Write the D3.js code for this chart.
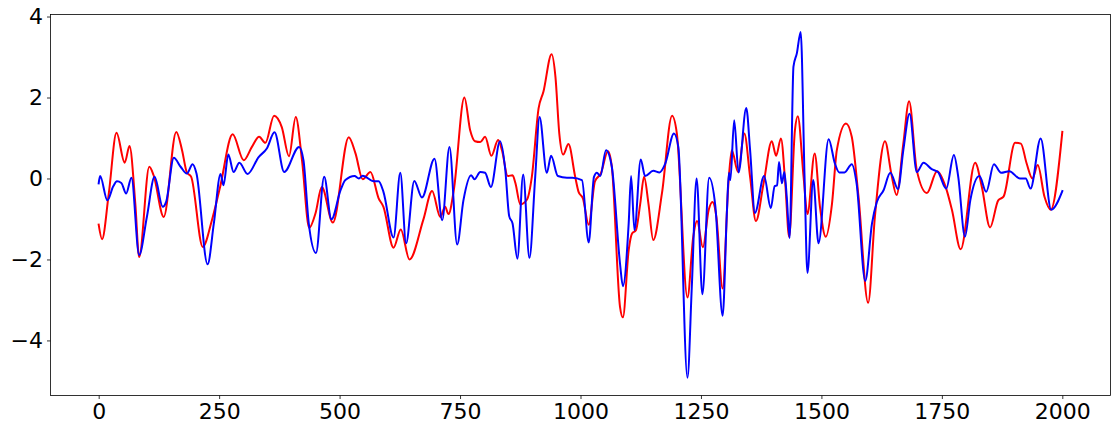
<!DOCTYPE html>
<html>
<head>
<meta charset="utf-8">
<script src="https://cdn.jsdelivr.net/npm/d3@7"></script>
<style>
  html, body { margin: 0; padding: 0; background: #fff; }
  svg { display: block; }
</style>
</head>
<body>
<script>
// ---- data ----
const xTicks = [0, 250, 500, 750, 1000, 1250, 1500, 1750, 2000];
const yTicks = [-4, -2, 0, 2, 4];

const redX = [0,7,21,37,54,64,76,84,105,114,135,161,173,183,192,216,235,252,278,301,318,333,346,364,380,395,409,422,437,450,463,486,519,533,548,564,581,591,612,627,645,674,692,709,719,726,737,759,771,781,792,802,815,829,837,849,859,865,875,889,899,913,923,940,948,956,964,975,989,996,1005,1017,1030,1042,1057,1065,1082,1088,1100,1107,1115,1124,1132,1141,1151,1169,1190,1200,1222,1234,1242,1254,1266,1274,1282,1295,1307,1314,1327,1340,1352,1364,1380,1397,1406,1416,1425,1433,1445,1451,1463,1471,1486,1497,1509,1522,1532,1551,1563,1577,1597,1611,1632,1645,1656,1670,1682,1698,1719,1740,1759,1771,1789,1819,1833,1850,1867,1878,1902,1914,1926,1938,1949,1963,1976,2000];
const redY = [-1.14,-1.50,-0.37,1.13,0.39,0.80,-0.62,-1.94,0.29,0.08,-0.95,1.15,0.70,0.15,0.04,-1.69,-1.03,-0.21,1.09,0.45,0.78,1.03,0.88,1.55,1.27,0.55,1.52,0.45,-1.22,-0.86,-0.21,-1.09,1.02,0.62,-0.02,0.16,-0.49,-0.70,-1.71,-1.26,-2.00,-1.01,-0.31,-0.95,-0.70,-0.88,-0.29,2.00,1.19,0.92,0.90,1.03,0.56,0.95,0.70,0.06,0.08,-0.12,-0.64,-0.52,0.04,1.73,2.14,3.07,2.51,1.11,0.59,0.85,0.04,-0.33,-0.49,-1.14,-0.07,0.12,0.67,0.29,-3.17,-3.43,-1.77,-1.36,-1.28,-0.62,0.04,-0.62,-1.52,-0.37,1.55,1.11,-2.94,-1.44,-1.05,-1.70,-0.78,-0.58,-0.95,-2.72,-0.12,0.70,0.16,1.11,0.04,-1.05,-0.12,0.92,0.56,0.99,-0.12,-1.44,1.19,1.54,0.04,-0.88,0.62,-0.70,-1.44,-0.62,0.70,1.36,1.03,-0.45,-3.07,-0.95,0.92,0.12,-0.41,0.86,1.91,0.20,-0.36,0.18,-0.25,-0.78,-1.75,0.39,-0.21,-1.21,-0.54,-0.45,0.88,0.86,0.37,0.00,0.33,-0.45,-0.77,1.15];

const blueX = [0,3,18,30,38,47,57,68,84,100,116,133,140,156,170,183,195,203,226,239,253,259,269,280,292,309,332,349,365,385,416,425,436,451,468,483,502,512,531,540,548,571,581,591,612,626,638,655,671,697,713,728,744,757,773,780,792,802,814,833,844,852,859,869,881,894,906,915,930,939,953,972,983,1003,1017,1028,1034,1041,1053,1065,1082,1088,1100,1105,1112,1125,1134,1151,1164,1176,1194,1203,1222,1231,1241,1253,1267,1280,1295,1304,1308,1311,1319,1328,1344,1352,1362,1381,1395,1403,1408,1412,1418,1423,1428,1434,1442,1449,1457,1465,1471,1483,1494,1515,1528,1537,1548,1563,1573,1591,1605,1615,1629,1643,1659,1670,1683,1698,1712,1729,1742,1759,1775,1784,1798,1809,1828,1842,1858,1873,1890,1912,1924,1934,1955,1977,2000];
const blueY = [-0.12,0.06,-0.54,-0.20,-0.07,-0.11,-0.37,0.02,-1.89,-0.95,0.04,-0.70,-0.58,0.51,0.29,0.12,0.35,0.12,-2.12,-1.11,0.11,-0.17,0.59,0.16,0.39,0.11,0.53,0.74,1.14,0.16,0.78,0.45,-1.11,-1.84,0.04,-1.01,-0.29,-0.04,0.06,0.00,0.07,-0.07,-0.07,-0.33,-1.46,0.14,-1.60,-0.06,-0.47,0.49,-1.03,0.78,-1.63,-0.54,0.08,-0.02,0.16,0.14,-0.21,0.92,0.20,-0.93,-1.11,-1.98,0.10,-1.96,0.04,1.52,0.14,0.56,0.06,0.02,0.02,-0.04,-1.58,0.04,0.14,0.06,0.70,0.29,-2.10,-2.66,-1.11,0.06,-1.28,0.47,0.06,0.19,0.15,0.37,1.11,0.78,-4.92,-2.68,0.00,-2.86,0.02,-0.70,-3.39,-0.78,0.14,-0.04,1.44,0.15,1.74,0.70,-0.85,0.06,-0.73,-0.19,-0.17,0.41,-0.12,0.16,-0.45,-1.47,2.76,3.09,3.62,0.04,-2.33,-0.04,-1.60,0.97,0.37,0.15,0.15,0.35,-0.12,-2.53,-1.11,-0.58,-0.29,0.14,-0.26,0.70,1.60,0.16,0.39,0.23,0.16,-0.25,0.58,0.04,-1.44,-0.54,0.06,-0.33,0.35,0.14,0.18,0.00,0.00,-0.25,0.99,-0.77,-0.31];

// ---- layout ----
const W = 1116, H = 433;
const margin = {left: 50.5, top: 14.5, right: 5.5, bottom: 37.5};
const iw = W - margin.left - margin.right;
const ih = H - margin.top - margin.bottom;

const svg = d3.select("body").append("svg").attr("width", W).attr("height", H);
const g = svg.append("g").attr("transform", `translate(${margin.left},${margin.top})`);

const x = d3.scaleLinear().domain([-100, 2100]).range([0, iw]);
const y = d3.scaleLinear().domain([-5.36, 4.05]).range([ih, 0]);

const fontFamily = "'DejaVu Sans', sans-serif";
const fontSize = "22px";

const clip = svg.append("defs").append("clipPath").attr("id", "clip")
  .append("rect").attr("width", iw).attr("height", ih);

const line = d3.line().x(d => x(d[0])).y(d => y(d[1])).curve(d3.curveMonotoneX);

const lines = g.append("g").attr("clip-path", "url(#clip)");
lines.append("path").datum(redX.map((v, i) => [v, redY[i]]))
  .attr("d", line).attr("fill", "none").attr("stroke", "#ff0000")
  .attr("stroke-width", 2).attr("stroke-linejoin", "round").attr("stroke-linecap", "square");
lines.append("path").datum(blueX.map((v, i) => [v, blueY[i]]))
  .attr("d", line).attr("fill", "none").attr("stroke", "#0000ff")
  .attr("stroke-width", 2).attr("stroke-linejoin", "round").attr("stroke-linecap", "square");

// axes
const xAxis = d3.axisBottom(x).tickValues(xTicks).tickSize(3.5).tickPadding(4).tickFormat(d3.format("d"));
const yAxis = d3.axisLeft(y).tickValues(yTicks).tickSize(3.5).tickPadding(4).tickFormat(d => d < 0 ? "\u2212" + Math.abs(d) : String(d));

const gx = g.append("g").attr("transform", `translate(0,${ih})`).call(xAxis);
const gy = g.append("g").call(yAxis);
[gx, gy].forEach(a => {
  a.select(".domain").remove();
  a.selectAll("line").attr("stroke", "#000").attr("stroke-width", 0.8);
  a.selectAll("text").attr("fill", "#000").style("font-family", fontFamily).style("font-size", fontSize);
});

// frame
g.append("rect").attr("width", iw).attr("height", ih)
  .attr("fill", "none").attr("stroke", "#000").attr("stroke-width", 0.8);
</script>
</body>
</html>
